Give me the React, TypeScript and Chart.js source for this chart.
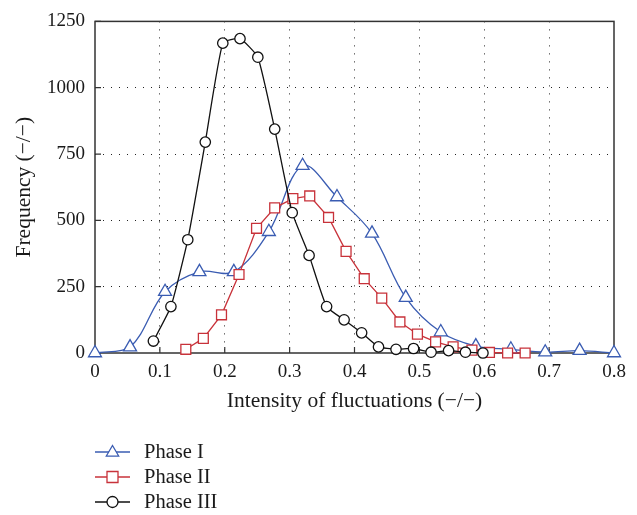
import React, { useEffect, useRef } from 'react';
import { Chart, registerables } from 'chart.js';

Chart.register(...registerables);

// Phase I (blue triangles)
const phase1X = [0, 0.054, 0.108, 0.161, 0.214, 0.268, 0.32, 0.373, 0.427, 0.479, 0.533, 0.587, 0.641, 0.694, 0.747, 0.8];
const phase1Y = [0, 22, 231, 306, 306, 457, 706, 588, 451, 209, 79, 26, 14, 3, 9, 0];

// Phase II (red squares)
const phase2X = [0.14, 0.167, 0.195, 0.222, 0.249, 0.277, 0.305, 0.331, 0.36, 0.387, 0.415, 0.442, 0.47, 0.497, 0.525, 0.552, 0.581, 0.608, 0.636, 0.663];
const phase2Y = [14, 55, 144, 296, 470, 547, 582, 592, 511, 383, 280, 207, 117, 71, 42, 23, 11, 2, 0, 0];

// Phase III (black circles)
const phase3X = [0.09, 0.117, 0.143, 0.17, 0.197, 0.2235, 0.251, 0.277, 0.304, 0.33, 0.357, 0.384, 0.411, 0.437, 0.464, 0.491, 0.518, 0.545, 0.571, 0.598];
const phase3Y = [45, 175, 427, 795, 1168, 1185, 1115, 844, 529, 368, 175, 125, 76, 23, 14, 17, 3, 9, 3, 0];

const seriesLabels = ['Phase I', 'Phase II', 'Phase III'];
const xTitle = 'Intensity of fluctuations (\u2212/\u2212)';
const yTitle = 'Frequency (\u2212/\u2212)';

const BLUE = '#3a5cb2';
const RED = '#c8323a';
const BLACK = '#111111';
const FONT = 'Liberation Serif';

const toPoints = (xs: number[], ys: number[]) => xs.map((x, i) => ({ x, y: ys[i] }));

function drawMarker(ctx: CanvasRenderingContext2D, style: string, x: number, y: number, r: number) {
  ctx.beginPath();
  if (style === 'triangle') {
    ctx.moveTo(x, y - r);
    ctx.lineTo(x + r * 0.95, y + r * 0.62);
    ctx.lineTo(x - r * 0.95, y + r * 0.62);
    ctx.closePath();
  } else if (style === 'rect') {
    ctx.rect(x - r, y - r, 2 * r, 2 * r);
  } else {
    ctx.arc(x, y, r, 0, Math.PI * 2);
  }
  ctx.fill();
  ctx.stroke();
}

const framePlugin = {
  id: 'frame',
  beforeDatasetsDraw(chart: any) {
    const { ctx, chartArea } = chart;
    const { left, right, top, bottom } = chartArea;
    ctx.save();
    ctx.strokeStyle = '#333';
    ctx.lineWidth = 1.5;
    ctx.setLineDash([]);
    ctx.strokeRect(left, top, right - left, bottom - top);
    ctx.lineWidth = 1.2;
    const xs = chart.scales.x;
    const ys = chart.scales.y;
    ctx.beginPath();
    xs.ticks.forEach((t: any) => {
      const px = xs.getPixelForValue(t.value);
      ctx.moveTo(px, bottom);
      ctx.lineTo(px, bottom - 6);
    });
    ys.ticks.forEach((t: any) => {
      const py = ys.getPixelForValue(t.value);
      ctx.moveTo(left, py);
      ctx.lineTo(left + 6, py);
    });
    ctx.stroke();
    ctx.restore();
  },
};

const legendPlugin = {
  id: 'customLegend',
  afterDraw(chart: any) {
    const { ctx, chartArea } = chart;
    const x0 = chartArea.left;
    const rows = [452, 477, 502];
    ctx.save();
    chart.data.datasets.forEach((ds: any, i: number) => {
      const y = rows[i];
      ctx.strokeStyle = ds.borderColor;
      ctx.lineWidth = 1.3;
      ctx.beginPath();
      ctx.moveTo(x0, y);
      ctx.lineTo(x0 + 35, y);
      ctx.stroke();
      ctx.fillStyle = '#ffffff';
      drawMarker(ctx, ds.pointStyle, x0 + 17.5, y, ds.pointStyle === 'triangle' ? 6.5 : 5.5);
      ctx.fillStyle = '#1a1a1a';
      ctx.font = `20.5px "${FONT}"`;
      ctx.textBaseline = 'middle';
      ctx.textAlign = 'left';
      ctx.fillText(ds.label, x0 + 49, y + 1);
    });
    ctx.restore();
  },
};

export default function App() {
  const ref = useRef<HTMLCanvasElement>(null);

  useEffect(() => {
    if (!ref.current) return;
    const common = {
      pointBackgroundColor: '#ffffff',
      borderWidth: 1.3,
      pointBorderWidth: 1.3,
      clip: false as any,
    };
    const chart = new Chart(ref.current, {
      type: 'line',
      data: {
        datasets: [
          {
            ...common,
            label: seriesLabels[0],
            data: toPoints(phase1X, phase1Y),
            borderColor: BLUE,
            pointBorderColor: BLUE,
            pointStyle: 'triangle',
            pointRadius: 7.5,
            tension: 0.35,
            order: 3,
          },
          {
            ...common,
            label: seriesLabels[1],
            data: toPoints(phase2X, phase2Y),
            borderColor: RED,
            pointBorderColor: RED,
            pointStyle: 'rect',
            pointRadius: 7,
            tension: 0,
            order: 2,
          },
          {
            ...common,
            label: seriesLabels[2],
            data: toPoints(phase3X, phase3Y),
            borderColor: BLACK,
            pointBorderColor: BLACK,
            pointStyle: 'circle',
            pointRadius: 5.2,
            tension: 0.15,
            order: 1,
          },
        ],
      },
      options: {
        animation: false,
        responsive: true,
        maintainAspectRatio: false,
        layout: { padding: { left: 0, right: 23, top: 17, bottom: 101 } },
        plugins: { legend: { display: false }, tooltip: { enabled: false } },
        scales: {
          x: {
            type: 'linear',
            min: 0,
            max: 0.8,
            ticks: { stepSize: 0.1, color: '#1a1a1a', font: { family: FONT, size: 19 }, padding: 8, maxRotation: 0 },
            grid: {
              drawTicks: false,
              color: (c: any) => (c.tick && (c.tick.value === 0 || Math.abs(c.tick.value - 0.8) < 1e-6) ? 'rgba(0,0,0,0)' : '#222'),
              lineWidth: 1,
            },
            border: { display: false, dash: [1, 7] },
            title: { display: true, text: xTitle, color: '#1a1a1a', font: { family: FONT, size: 21.5 }, padding: { top: 0, bottom: 0 } },
            afterFit: (s: any) => { s.height = 61; },
          },
          y: {
            type: 'linear',
            min: 0,
            max: 1250,
            ticks: {
              stepSize: 250,
              color: '#1a1a1a',
              font: { family: FONT, size: 19 },
              padding: 10,
              callback: (v: any) => String(v),
            },
            grid: {
              drawTicks: false,
              color: (c: any) => (c.tick && (c.tick.value === 0 || c.tick.value === 1250) ? 'rgba(0,0,0,0)' : '#222'),
              lineWidth: 1,
            },
            border: { display: false, dash: [1, 7] },
            title: { display: true, text: yTitle, color: '#1a1a1a', font: { family: FONT, size: 21.5 }, padding: { top: 11, bottom: 0 } },
            afterFit: (s: any) => { s.width = 95; },
          },
        },
      },
      plugins: [framePlugin, legendPlugin],
    });
    return () => chart.destroy();
  }, []);

  return (
    <div style={{ position: 'fixed', left: 0, top: 0, width: 637, height: 515, background: '#fff' }}>
      <canvas ref={ref} />
    </div>
  );
}
